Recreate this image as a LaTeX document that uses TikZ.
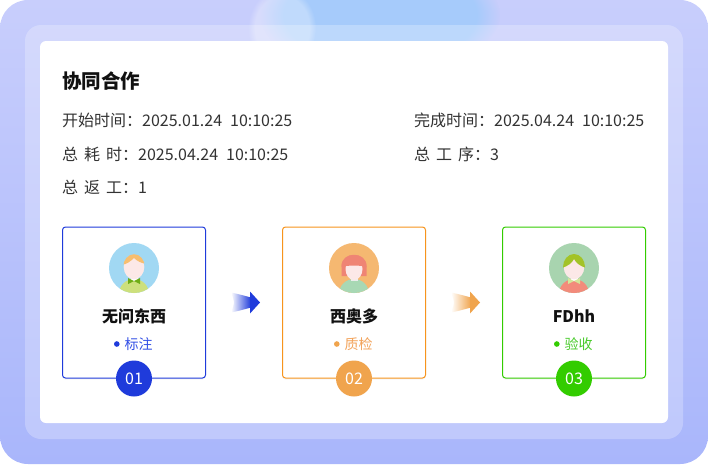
\documentclass[tikz,border=0pt]{standalone}
\usepackage{fontspec}
\setmainfont{Noto Sans CJK SC}
\usetikzlibrary{calc,shadows,fadings}

\definecolor{bgtop}{HTML}{C8CEFC}
\definecolor{bgbot}{HTML}{A9B6FB}
\definecolor{bgblue}{HTML}{A6CBFB}
\definecolor{txtgray}{HTML}{333333}
\definecolor{txtdark}{HTML}{111111}
\definecolor{cardblue}{HTML}{1F3BDB}
\definecolor{cardorange}{HTML}{F7941D}
\definecolor{cardgreen}{HTML}{33CC00}
\definecolor{badgeorange}{HTML}{F0A44D}
\definecolor{tagblue}{HTML}{3350E6}
\definecolor{tagorange}{HTML}{F3A35A}
\definecolor{taggreen}{HTML}{48CB2A}
\definecolor{facepink}{HTML}{FCE8E7}
% avatar colours
\definecolor{skyring}{HTML}{A1D8F3}
\definecolor{limebody}{HTML}{CDE07C}
\definecolor{goldhair}{HTML}{F7BE70}
\definecolor{greenbow}{HTML}{6FAD16}
\definecolor{peachring}{HTML}{F5B871}
\definecolor{mintbody}{HTML}{A8D8B4}
\definecolor{greyneck}{HTML}{EDEDED}
\definecolor{redhair}{HTML}{EF8474}
\definecolor{sagering}{HTML}{A8D4AF}
\definecolor{salmonbody}{HTML}{F28B7B}
\definecolor{olivehair}{HTML}{A3C328}
\definecolor{palecollar}{HTML}{D4E69A}

\tikzset{
  card/.style={draw=#1, fill=white, rounded corners=3pt, line width=1pt,
    minimum width=143pt, minimum height=151pt, inner sep=0pt,
    drop shadow={opacity=0.08, shadow xshift=0pt, shadow yshift=-1.5pt}},
  badge/.style={circle, fill=#1, minimum size=36pt, inner sep=0pt, text=white,
    font=\fontsize{16}{16}\selectfont},
  info/.style={anchor=west, inner sep=0pt, text=txtgray, font=\fontsize{16}{16}\selectfont},
  cardname/.style={inner sep=0pt, text=txtdark, font=\fontsize{16}{16}\selectfont\bfseries},
  tagtext/.style={inner sep=0pt, text=#1, font=\fontsize{14}{14}\selectfont},
}

\newcommand{\gap}{\hspace{6pt}}

\begin{document}
\begin{tikzpicture}[x=1pt,y=-1pt]
    \useasboundingbox (0,0) rectangle (708,464);

    % draw background
    \begin{scope}
      \clip[rounded corners=28pt] (0,0) rectangle (708,464);
      \shade[top color=bgtop, bottom color=bgbot] (0,0) rectangle (708,464);
      \fill[bgblue, path fading=circle with fuzzy edge 20 percent] (380,15) ellipse (120 and 60);
      \fill[white, opacity=0.3, path fading=circle with fuzzy edge 20 percent] (282,28) ellipse (34 and 40);
    \end{scope}
    \fill[white, fill opacity=0.25, rounded corners=16pt] (25,25) rectangle (683,439);
    \fill[white, rounded corners=6pt] (40,41) rectangle (668,423);

    % draw title and info
    \node[anchor=west, inner sep=0pt, text=txtdark, font=\fontsize{19.5}{20}\selectfont\bfseries] (title) at (62,81.5) {协同合作};
    \node[info] (start) at (62,120.8) {开始时间：2025.01.24\hspace{0.5em}10:10:25};
    \node[info] (total) at (62,154) {总\gap 耗\gap 时：2025.04.24\hspace{0.5em}10:10:25};
    \node[info] (rework) at (62,187) {总\gap 返\gap 工：1};
    \node[info] (finish) at (414,120.8) {完成时间：2025.04.24\hspace{0.5em}10:10:25};
    \node[info] (steps) at (414,154) {总\gap 工\gap 序：3};

    % draw cards
    \foreach \i/\x/\col/\ring/\tagc/\name/\tag in {1/134/cardblue/cardblue/tagblue/无问东西/标注,
        2/354/cardorange/badgeorange/tagorange/西奥多/质检, 3/574/cardgreen/cardgreen/taggreen/FDhh/验收}
    {
      \node[card=\col] (c\i) at (\x,302.5) {};
      \node[cardname] (n\i) at (\x,316) {\name};
      \node[tagtext=\tagc] (s\i) at (\x+4.5,344) {\tag};
      \fill[\ring] ($(s\i.west)+(-7.5,0)$) circle (2.8);
      \node[badge=\ring] (b\i) at (c\i.south) {0\i};
    }

    % draw arrows
    \foreach \a/\b/\col in {1/2/cardblue, 2/3/badgeorange}
    {
      \begin{scope}[shift={($(c\a.east)!0.5!(c\b.west)$)}]
        \shade[left color=white, right color=\col] (-13,-10) .. controls (-4,-8) .. (7,-5)
          -- (7,5) .. controls (-4,8) .. (-13,10) .. controls (-9,0) .. (-13,-10);
        \fill[\col] (6,-11) -- (16,0) -- (6,11) -- cycle;
      \end{scope}
    }

    % draw avatar 1
    \begin{scope}[shift={(134,268)}]
      \fill[skyring] (0,0) circle (25);
      \begin{scope}
        \clip (0,0) circle (25);
        \fill[limebody] (0,26) ellipse (15 and 15);
      \end{scope}
      \fill[white] (-3.5,7) rectangle (3.5,13);
      \fill[facepink] (0,-1) ellipse (10.3 and 12.3);
      \begin{scope}
        \clip (0,-1) ellipse (10.8 and 12.8);
        \fill[goldhair] (-12,-3) .. controls (-7,-4) and (-3,-7) .. (0,-10)
          .. controls (3,-7) and (7,-5) .. (12,-4) -- (12,-16) -- (-12,-16) -- cycle;
      \end{scope}
      \fill[greenbow] (-6,10) -- (0,13) -- (-6,16) -- cycle (6,10) -- (0,13) -- (6,16) -- cycle;
    \end{scope}

    % draw avatar 2
    \begin{scope}[shift={(354,268)}]
      \fill[peachring] (0,0) circle (25);
      \begin{scope}
        \clip (0,0) circle (25);
        \fill[mintbody] (0,26) ellipse (15 and 15);
      \end{scope}
      \fill[greyneck] (-3.5,7) rectangle (3.5,13);
      \fill[redhair] (-12.5,8) -- (-12.5,-2) .. controls (-12.5,-17) and (12.5,-17) .. (12.5,-2) -- (12.5,8) -- cycle;
      \fill[facepink] (0,1) ellipse (8.5 and 11);
      \fill[redhair] (-12.5,-1) .. controls (-12.5,-17) and (12.5,-17) .. (12.5,-1)
        .. controls (6,-3) and (-6,-3) .. (-12.5,-1);
    \end{scope}

    % draw avatar 3
    \begin{scope}[shift={(574,268)}]
      \fill[sagering] (0,0) circle (25);
      \begin{scope}
        \clip (0,0) circle (25);
        \fill[salmonbody] (0,26) ellipse (15 and 15);
      \end{scope}
      \fill[white] (-3.5,7) rectangle (3.5,13);
      \fill[facepink] (0,-1) ellipse (10.3 and 12.3);
      \begin{scope}
        \clip (0,-1) ellipse (11 and 13);
        \fill[olivehair] (-12,0) .. controls (-6,-2) and (-2,-5) .. (0,-9)
          .. controls (2,-5) and (6,-2) .. (12,0) -- (12,-16) -- (-12,-16) -- cycle;
      \end{scope}
      \fill[palecollar] (-6,10) -- (0,13) -- (-6,16) -- cycle (6,10) -- (0,13) -- (6,16) -- cycle;
    \end{scope}
\end{tikzpicture}
\end{document}
